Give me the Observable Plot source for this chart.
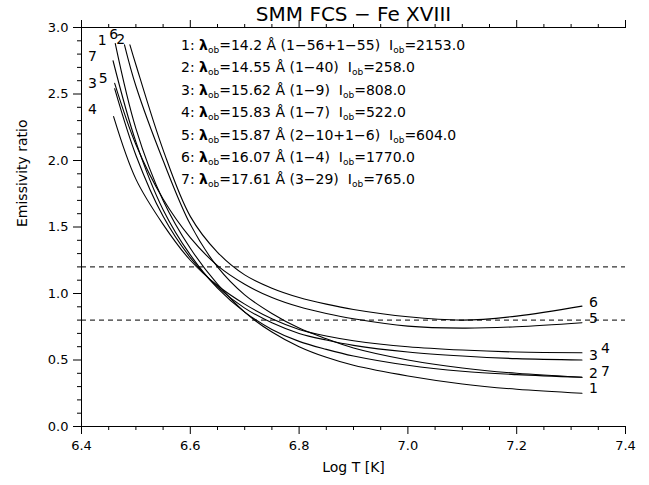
<!DOCTYPE html>
<html>
<head>
<meta charset="utf-8">
<script src="https://cdn.jsdelivr.net/npm/d3@7"></script>
<script src="https://cdn.jsdelivr.net/npm/@observablehq/plot@0.6"></script>
<style>
  body { margin: 0; background: #fff; }
  #chart svg { display: block; }
</style>
</head>
<body>
<div id="chart"></div>
<script>
// ---- data ----
const titleText = "SMM FCS \u2212 Fe XVIII";
const xTitle = "Log T [K]";
const yTitle = "Emissivity ratio";

const curveIds = ["1", "2", "3", "4", "5", "6", "7"];
const startT = [6.462, 6.479, 6.461, 6.459, 6.461, 6.489, 6.458];
const startR = [2.88, 2.87, 2.54, 2.33, 2.58, 2.87, 2.75];
const gridT = [6.5, 6.55, 6.6, 6.65, 6.7, 6.75, 6.8, 6.85, 6.9, 7.0, 7.1, 7.2, 7.32];
const ratio1 = [2.24, 1.70, 1.34, 1.07, 0.86, 0.71, 0.60, 0.52, 0.46, 0.38, 0.32, 0.28, 0.25];
const ratio2 = [2.56, 2.00, 1.52, 1.20, 0.99, 0.85, 0.74, 0.66, 0.59, 0.50, 0.44, 0.40, 0.37];
const ratio3 = [2.04, 1.58, 1.27, 1.05, 0.89, 0.78, 0.70, 0.65, 0.61, 0.56, 0.53, 0.51, 0.50];
const ratio4 = [1.86, 1.52, 1.25, 1.06, 0.92, 0.81, 0.73, 0.68, 0.645, 0.60, 0.575, 0.56, 0.555];
const ratio5 = [2.12, 1.71, 1.42, 1.21, 1.07, 0.97, 0.90, 0.85, 0.81, 0.755, 0.74, 0.75, 0.78];
const ratio6 = [2.72, 2.08, 1.58, 1.31, 1.14, 1.04, 0.97, 0.92, 0.88, 0.825, 0.80, 0.83, 0.905];
const ratio7 = [2.14, 1.63, 1.29, 1.04, 0.86, 0.73, 0.64, 0.58, 0.53, 0.46, 0.415, 0.39, 0.37];
const ratios = [ratio1, ratio2, ratio3, ratio4, ratio5, ratio6, ratio7];

// curve number labels (data coordinates)
const leftLabelT = [6.438, 6.472, 6.420, 6.420, 6.440, 6.459, 6.420];
const leftLabelR = [2.90, 2.91, 2.58, 2.38, 2.62, 2.95, 2.78];
const rightLabelT = [7.341, 7.341, 7.341, 7.363, 7.341, 7.341, 7.363];
const rightLabelR = [0.285, 0.40, 0.53, 0.59, 0.81, 0.93, 0.41];

const thresholds = [0.8, 1.2];

// legend text
const lambdaOb = ["14.2", "14.55", "15.62", "15.83", "15.87", "16.07", "17.61"];
const transitions = ["1\u221256+1\u221255", "1\u221240", "1\u22129", "1\u22127", "2\u221210+1\u22126", "1\u22124", "3\u221229"];
const intensityOb = ["2153.0", "258.0", "808.0", "522.0", "604.0", "1770.0", "765.0"];

// ticks
const xMajor = [6.4, 6.6, 6.8, 7.0, 7.2, 7.4];
const xMinor = d3.range(0, 21).map(i => +(6.4 + i * 0.05).toFixed(2)).filter(v => !xMajor.includes(v));
const yMajor = [0, 0.5, 1.0, 1.5, 2.0, 2.5, 3.0];
const yMinor = d3.range(0, 31).map(i => +(i * 0.1).toFixed(1)).filter(v => !yMajor.includes(v));

// ---- build tables ----
const rows = [];
curveIds.forEach((id, k) => {
  rows.push({id, t: startT[k], r: startR[k]});
  gridT.forEach((t, j) => { if (t > startT[k]) rows.push({id, t, r: ratios[k][j]}); });
});
const leftLabels = curveIds.map((id, k) => ({id, t: leftLabelT[k], r: leftLabelR[k]}));
const rightLabels = curveIds.map((id, k) => ({id, t: rightLabelT[k], r: rightLabelR[k]}));

const font = "DejaVu Sans, Liberation Sans, sans-serif";
const blank = () => "";

const chart = Plot.plot({
  width: 649,
  height: 485,
  marginTop: 27,
  marginRight: 24,
  marginBottom: 59,
  marginLeft: 81,
  style: {fontFamily: font, fontSize: "13px", color: "black", background: "white", overflow: "visible"},
  x: {domain: [6.4, 7.4]},
  y: {domain: [0, 3]},
  marks: [
    Plot.ruleY(thresholds, {stroke: "black", strokeWidth: 1, strokeDasharray: "5,4"}),
    // frame lines (no right axis)
    Plot.ruleY([0, 3], {stroke: "black", strokeWidth: 1}),
    Plot.ruleX([6.4], {stroke: "black", strokeWidth: 1}),
    // bottom axis
    Plot.axisX({ticks: xMajor, tickSize: 8, tickPadding: 6, tickFormat: d3.format(".1f"), label: null, fontSize: 13}),
    Plot.axisX({ticks: xMinor, tickSize: 4, tickFormat: blank, label: null}),
    // top axis
    Plot.axisX({anchor: "top", ticks: xMajor, tickSize: 8, tickFormat: blank, label: null}),
    Plot.axisX({anchor: "top", ticks: xMinor, tickSize: 4, tickFormat: blank, label: null}),
    // left axis
    Plot.axisY({ticks: yMajor, tickSize: 8, tickPadding: 5, tickFormat: d3.format(".1f"), label: null, fontSize: 13}),
    Plot.axisY({ticks: yMinor, tickSize: 4, tickFormat: blank, label: null}),
    // curves
    Plot.line(rows, {x: "t", y: "r", z: "id", stroke: "black", strokeWidth: 1.1, curve: "catmull-rom"}),
    // curve labels
    Plot.text(leftLabels, {x: "t", y: "r", text: "id", fontSize: 14}),
    Plot.text(rightLabels, {x: "t", y: "r", text: "id", fontSize: 14}),
    // titles
    Plot.text([titleText], {frameAnchor: "top", lineAnchor: "middle", dy: -13, fontSize: 20}),
    Plot.text([xTitle], {frameAnchor: "bottom", lineAnchor: "middle", dy: 41, fontSize: 14}),
    Plot.text([yTitle], {frameAnchor: "left", lineAnchor: "middle", dx: -59, rotate: -90, fontSize: 14})
  ]
});

document.getElementById("chart").appendChild(chart);

// legend block (rich text with subscripts)
const svg = d3.select(chart);
const g = svg.append("g")
  .attr("font-family", font)
  .attr("font-size", 14)
  .attr("text-anchor", "start")
  .attr("fill", "black");
curveIds.forEach((id, k) => {
  const t = g.append("text")
    .attr("x", 181)
    .attr("y", 50 + k * 22.4)
    .attr("text-anchor", "start")
    .style("white-space", "pre");
  t.append("tspan").text(id + ": ");
  t.append("tspan").attr("font-weight", "bold").text("\u03bb");
  t.append("tspan").attr("font-size", 9).attr("dy", 3).text("ob");
  t.append("tspan").attr("dy", -3).text("=" + lambdaOb[k] + " \u00c5 (" + transitions[k] + ")  ");
  t.append("tspan").text("I");
  t.append("tspan").attr("font-size", 9).attr("dy", 3).text("ob");
  t.append("tspan").attr("dy", -3).text("=" + intensityOb[k]);
});
</script>
</body>
</html>
